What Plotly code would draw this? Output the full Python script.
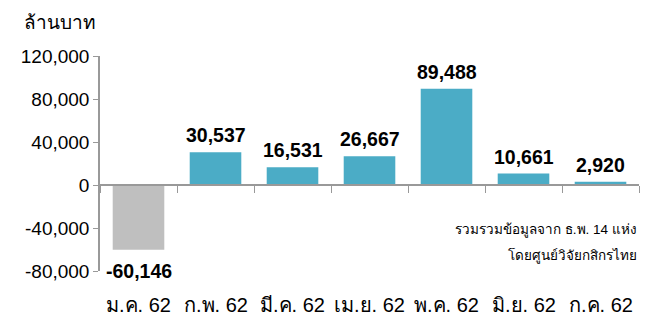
import plotly.graph_objects as go

categories = ["ม.ค. 62", "ก.พ. 62", "มี.ค. 62", "เม.ย. 62", "พ.ค. 62", "มิ.ย. 62", "ก.ค. 62"]
values = [-60146, 30537, 16531, 26667, 89488, 10661, 2920]
y_ticks = [-80000, -40000, 0, 40000, 80000, 120000]
y_tick_labels = ["-80,000", "-40,000", "0", "40,000", "80,000", "120,000"]
unit_label = "ล้านบาท"
note_lines = ["รวมรวมข้อมูลจาก ธ.พ. 14 แห่ง", "โดยศูนย์วิจัยกสิกรไทย"]

colors = ["#BFBFBF" if v < 0 else "#4BACC6" for v in values]

fig = go.Figure()
fig.add_trace(go.Bar(
    x=categories, y=values,
    marker=dict(color=colors, line=dict(width=0)),
    cliponaxis=False,
))

for c, v in zip(categories, values):
    fig.add_annotation(x=c, y=v, xref="x", yref="y", text=f"{v:,}", showarrow=False,
                       yanchor="middle", yshift=17 if v >= 0 else -21,
                       font=dict(family="Liberation Sans, Arial", size=19.5, color="#000000", weight="bold"))

ymin, ymax = -80000, 120000
zero_frac = (0 - ymin) / (ymax - ymin)

fig.update_layout(
    width=650, height=309,
    margin=dict(l=92, r=19, t=48, b=46),
    paper_bgcolor="white", plot_bgcolor="white",
    showlegend=False,
    bargap=0.33,
    font=dict(family="Liberation Sans, Arial", size=19, color="#000000"),
    xaxis=dict(
        anchor="free", position=zero_frac,
        showline=True, linecolor="#999999", linewidth=1.5,
        ticks="outside", tickson="boundaries", ticklen=7, tickcolor="#999999",
        showticklabels=False, showgrid=False, zeroline=False,
    ),
    yaxis=dict(
        range=[ymin, ymax],
        tickvals=y_ticks, ticktext=y_tick_labels,
        showline=True, linecolor="#999999", linewidth=1.5,
        ticks="outside", ticklen=5, tickcolor="#999999",
        showgrid=False, zeroline=False,
        tickfont=dict(size=19),
    ),
)

for c in categories:
    fig.add_annotation(x=c, xref="x", y=-0.158, yref="paper", text=c, showarrow=False,
                       font=dict(size=20, color="#000000"), yanchor="middle")

fig.add_annotation(x=-0.145, xref="paper", y=1.158, yref="paper", text=unit_label,
                   showarrow=False, xanchor="left", yanchor="middle",
                   font=dict(size=19, color="#000000"))

for i, line in enumerate(note_lines):
    fig.add_annotation(x=1.0, xref="paper", y=0.19 - i * 0.12, yref="paper", text=line,
                       showarrow=False, xanchor="right", yanchor="middle",
                       font=dict(size=13.5, color="#000000"))

fig.write_html("out.html")
